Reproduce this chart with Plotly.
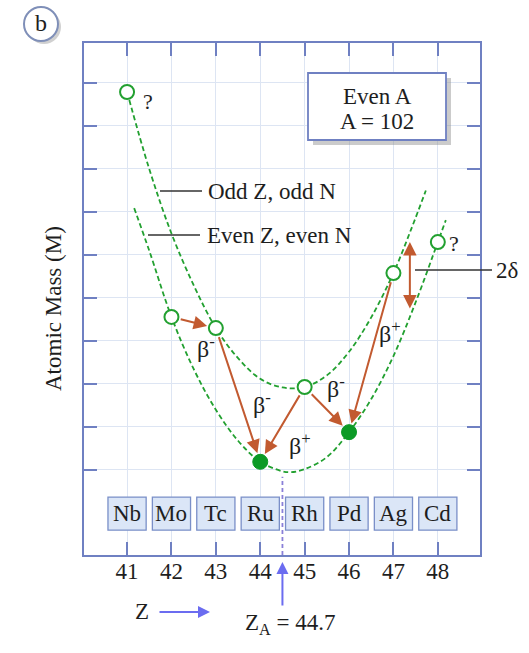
import plotly.graph_objects as go

# ---------------- data ----------------
Z_values = [41, 42, 43, 44, 45, 46, 47, 48]
elements = ["Nb", "Mo", "Tc", "Ru", "Rh", "Pd", "Ag", "Cd"]
masses = [8.79, 3.56, 3.30, 0.19, 1.93, 0.88, 4.58, 5.30]
stable = [False, False, False, True, False, True, False, False]
unknown = [True, False, False, False, False, False, False, True]

# odd Z, odd N parabola (upper)
odd_curve_Z = [41.0, 41.5, 42.0, 42.5, 43.0, 43.5, 44.0, 44.5, 45.0, 45.5, 46.0, 46.5, 47.0, 47.4, 47.73]
odd_curve_M = [8.79, 7.0, 5.5, 4.3, 3.3, 2.6, 2.12, 1.92, 1.93, 2.2, 2.75, 3.55, 4.58, 5.6, 6.5]
# even Z, even N parabola (lower)
even_curve_Z = [41.16, 41.5, 42.0, 42.5, 43.0, 43.5, 44.0, 44.5, 44.7, 45.0, 45.5, 46.0, 46.5, 47.0, 47.5, 48.0, 48.18]
even_curve_M = [6.09, 5.1, 3.56, 2.35, 1.4, 0.68, 0.19, -0.03, -0.05, 0.02, 0.3, 0.88, 1.65, 2.65, 3.9, 5.3, 5.81]

# decays: (from Z, to Z)
decay_from = [42, 43, 45, 45, 47]
decay_to = [43, 44, 44, 46, 46]
decay_labels = ["β<sup>-</sup>", "β<sup>-</sup>", "β<sup>+</sup>", "β<sup>-</sup>", "β<sup>+</sup>"]
decay_label_Z = [42.78, 44.04, 44.89, 45.70, 46.92]
decay_label_M = [2.86, 1.56, 0.60, 1.93, 3.20]

delta_Z = 47.37
delta_top = 5.30
delta_bottom = 3.72

Z_A_line = 44.5
Z_A_text = "Z<sub>A</sub> = 44.7"

x_ticks = [41, 42, 43, 44, 45, 46, 47, 48]
y_ticks = [0, 1, 2, 3, 4, 5, 6, 7, 8, 9]

# ---------------- styling / layout ----------------
W, H = 529, 653
L, R, T, B = 84, 49, 43, 98
XR = [40.03, 48.95]
YR = [-1.977, 9.93]
FRAME = "#6f80c2"
GRID = "#dde5f3"
GREEN = "#22a030"
DARKGREEN = "#0c9a26"
ARROW = "#c25a30"
BLUE = "#6b6cf0"
SERIF = "Liberation Serif, Times New Roman, DejaVu Serif, serif"
TXT = "#1e1e1e"
FS = 23

# pixel offsets of the "?" marks from their circles
question_offsets = {41: (21, 9), 48: (16, 1)}


def px(xp):
    return (xp - L) / (W - L - R)


def py(yp):
    return (H - B - yp) / (H - T - B)


def data_x_to_px(z):
    return L + (z - XR[0]) / (XR[1] - XR[0]) * (W - L - R)


def data_y_to_px(m):
    return H - B - (m - YR[0]) / (YR[1] - YR[0]) * (H - T - B)


def ptext(xp, yp, text, size=FS, xanchor="center", **kw):
    return dict(x=px(xp), y=py(yp), xref="paper", yref="paper", text=text, showarrow=False,
                xanchor=xanchor, yanchor="middle", font=dict(family=SERIF, size=size, color=TXT), **kw)


fig = go.Figure()

fig.add_trace(go.Scatter(x=odd_curve_Z, y=odd_curve_M, mode="lines",
                         line=dict(color=GREEN, width=1.8, dash="5px,3px", shape="spline"),
                         hoverinfo="skip", showlegend=False))
fig.add_trace(go.Scatter(x=even_curve_Z, y=even_curve_M, mode="lines",
                         line=dict(color=GREEN, width=1.8, dash="5px,3px", shape="spline"),
                         hoverinfo="skip", showlegend=False))

open_Z = [z for z, s in zip(Z_values, stable) if not s]
open_M = [m for m, s in zip(masses, stable) if not s]
fill_Z = [z for z, s in zip(Z_values, stable) if s]
fill_M = [m for m, s in zip(masses, stable) if s]

fig.add_trace(go.Scatter(x=open_Z, y=open_M, mode="markers",
                         marker=dict(size=14, color="white", line=dict(color=GREEN, width=2)),
                         showlegend=False, cliponaxis=False))
fig.add_trace(go.Scatter(x=fill_Z, y=fill_M, mode="markers",
                         marker=dict(size=15, color=DARKGREEN, line=dict(color=DARKGREEN, width=1)),
                         showlegend=False, cliponaxis=False))

shapes = []
annotations = []

# element boxes
for z, el in zip(Z_values, elements):
    shapes.append(dict(type="rect", xref="x", yref="y", x0=z - 0.43, x1=z + 0.43, y0=-1.40, y1=-0.63,
                       fillcolor="#dbe6f7", line=dict(color="#7a8fc8", width=1.3), layer="above"))
    annotations.append(dict(x=z, y=-1.015, xref="x", yref="y", text=el, showarrow=False,
                            xanchor="center", yanchor="middle",
                            font=dict(family=SERIF, size=FS, color=TXT)))

# Z_A dashed line
shapes.append(dict(type="line", xref="x", yref="y", x0=Z_A_line, x1=Z_A_line, y0=YR[0], y1=-0.16,
                   line=dict(color="#8a80d8", width=1.8, dash="4px,3px"), layer="above"))

# decay arrows
mass_of = dict(zip(Z_values, masses))
for f, t in zip(decay_from, decay_to):
    annotations.append(dict(x=t, y=mass_of[t], ax=f, ay=mass_of[f], xref="x", yref="y",
                            axref="x", ayref="y", text="", showarrow=True, arrowhead=2,
                            arrowsize=1.35, arrowwidth=2, arrowcolor=ARROW,
                            standoff=9, startstandoff=8))
for lz, lm, lt in zip(decay_label_Z, decay_label_M, decay_labels):
    annotations.append(dict(x=lz, y=lm, xref="x", yref="y", text=lt, showarrow=False,
                            xanchor="center", yanchor="middle",
                            font=dict(family=SERIF, size=24, color=TXT)))

# 2 delta double arrow
annotations.append(dict(x=delta_Z, y=delta_top, ax=delta_Z, ay=delta_bottom, xref="x", yref="y",
                        axref="x", ayref="y", text="", showarrow=True, arrowhead=2, startarrowhead=2,
                        arrowside="end+start", arrowsize=1.35, startarrowsize=1.35, arrowwidth=2,
                        arrowcolor=ARROW))

# "?" marks
for z, m, u in zip(Z_values, masses, unknown):
    if u:
        dx, dy = question_offsets[z]
        annotations.append(ptext(data_x_to_px(z) + dx, data_y_to_px(m) + dy, "?", size=22))

# leader lines + labels
leaders = [
    (160, 202, 191, "Odd Z, odd N", 206),
    (148, 200, 235, "Even Z, even N", 205),
    (415, 492, 270, "2δ", 494),
]
for x0, x1, yy, label, tx in leaders:
    shapes.append(dict(type="line", xref="paper", yref="paper", x0=px(x0), x1=px(x1), y0=py(yy), y1=py(yy),
                       line=dict(color="#333333", width=1.5)))
    annotations.append(ptext(tx, yy, label, xanchor="left"))

# Even A box with shadow
shapes.append(dict(type="rect", xref="paper", yref="paper", x0=px(313), x1=px(451), y0=py(78), y1=py(145),
                   fillcolor="rgba(140,140,140,0.45)", line=dict(width=0)))
shapes.append(dict(type="rect", xref="paper", yref="paper", x0=px(308), x1=px(446), y0=py(73), y1=py(140),
                   fillcolor="white", line=dict(color=FRAME, width=1.8)))
annotations.append(ptext(377, 96, "Even A"))
annotations.append(ptext(377, 121, "A = 102"))

# "b" circle
shapes.append(dict(type="circle", xref="paper", yref="paper", x0=px(27), x1=px(61), y0=py(10), y1=py(44),
                   fillcolor="rgba(150,150,150,0.45)", line=dict(width=0)))
shapes.append(dict(type="circle", xref="paper", yref="paper", x0=px(24), x1=px(58), y0=py(7), y1=py(41),
                   fillcolor="white", line=dict(color="#7f8fb8", width=2)))
annotations.append(ptext(41, 23, "b", size=24))

# y axis title
annotations.append(ptext(53, 309, "Atomic Mass (M)", textangle=-90))

# Z_A up arrow + label
annotations.append(dict(x=Z_A_line, y=py(562), xref="x", yref="paper", ax=0, ay=45, text="",
                        showarrow=True, arrowhead=2, arrowsize=1.2, arrowwidth=2, arrowcolor=BLUE))
annotations.append(ptext(290, 624, Z_A_text))

# Z arrow
annotations.append(ptext(142, 611, "Z"))
annotations.append(dict(x=px(210), y=py(612), xref="paper", yref="paper", ax=-52, ay=0, text="",
                        showarrow=True, arrowhead=2, arrowsize=1.2, arrowwidth=2, arrowcolor=BLUE))

axis_common = dict(showline=True, linecolor=FRAME, linewidth=2, mirror="ticks",
                   ticks="inside", ticklen=13, tickwidth=2, tickcolor=FRAME,
                   showgrid=True, gridcolor=GRID, gridwidth=1, zeroline=False)

fig.update_layout(
    width=W, height=H,
    margin=dict(l=L, r=R, t=T, b=B, pad=0),
    paper_bgcolor="white", plot_bgcolor="white",
    xaxis=dict(range=XR, tickvals=x_ticks, ticktext=[str(v) for v in x_ticks],
               tickfont=dict(family=SERIF, size=FS, color=TXT), ticklabelstandoff=-6, **axis_common),
    yaxis=dict(range=YR, tickvals=y_ticks, showticklabels=False, **axis_common),
    shapes=shapes, annotations=annotations, showlegend=False,
)

fig.write_html("out.html")
